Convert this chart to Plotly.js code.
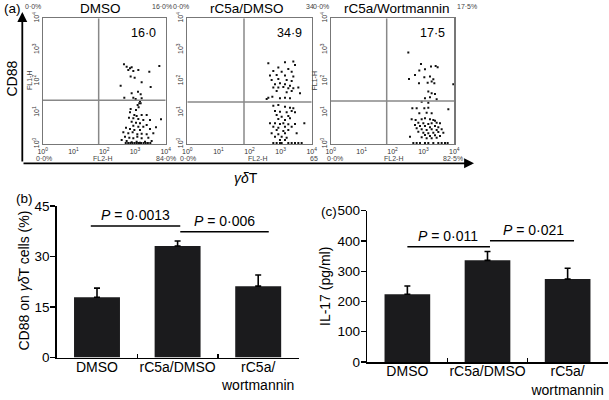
<!DOCTYPE html>
<html>
<head>
<meta charset="utf-8">
<script src="https://cdn.plot.ly/plotly-3.0.1.min.js"></script>
<style>html,body{margin:0;padding:0;background:#fff;}#chart{width:609px;height:400px;}</style>
</head>
<body>
<div id="chart"></div>
<script>
// ---------- Panel (a): flow cytometry dots (log10 decades) ----------
const dmsoX = [2.643,2.730,2.839,2.893,2.947,2.784,3.110,3.467,3.793,2.860,2.990,3.218,2.535,3.511,3.099,2.893,3.186,2.654,2.947,3.023,3.218,
  3.164,3.142,3.088,3.186,3.120,2.860,3.034,2.839,2.980,3.055,3.218,3.381,2.806,2.947,3.110,3.272,3.489,3.847,2.893,3.034,3.164,3.381,2.947,3.110,3.272,2.709,2.839,2.980,3.164,3.489,3.684,2.622,2.784,2.925,3.077,3.218,3.381,3.597,2.676,2.817,2.947,3.077,3.218,3.435,2.568,2.730,2.893,3.055,3.164,3.327,3.543,
  2.700,2.780,2.850,2.920,2.990,3.060,3.130,3.200,3.280,3.350,3.420,3.500];
const dmsoY = [2.537,2.462,2.409,2.441,2.324,2.356,2.356,2.303,2.484,2.144,2.112,1.963,1.857,1.815,1.666,1.613,1.581,1.475,1.475,1.433,1.454,
  1.369,1.295,1.242,1.295,1.167,1.114,1.082,1.008,0.923,0.891,0.923,0.923,0.838,0.817,0.796,0.764,0.764,0.785,0.711,0.679,0.658,0.605,0.583,0.552,0.552,0.520,0.477,0.445,0.445,0.477,0.530,0.371,0.339,0.371,0.307,0.329,0.307,0.339,0.233,0.201,0.180,0.233,0.180,0.201,0.127,0.095,0.053,0.074,0.042,0.074,0.095,
  0.03,0.03,0.03,0.03,0.03,0.03,0.03,0.03,0.03,0.03,0.03,0.03];

const rc5aX = [2.605,3.141,3.409,3.463,2.927,3.248,2.766,3.034,3.356,2.659,2.873,3.141,3.409,2.712,2.927,3.195,3.356,2.820,2.980,3.141,3.302,2.766,2.927,3.088,3.248,3.409,3.570,2.873,3.195,3.356,2.605,2.734,2.980,3.141,3.302,3.624,2.552,
  2.766,2.927,3.141,3.302,3.409,2.820,2.980,3.195,3.356,3.463,2.873,3.034,3.248,2.927,3.141,3.302,2.659,2.820,2.980,3.088,3.248,3.463,3.763,2.766,2.927,3.141,3.356,2.873,3.088,3.248,2.712,2.927,3.141,3.516,2.820,3.034,3.195,2.980,3.141,
  2.766,2.873,2.980,3.034,3.248,3.356,3.463,3.570,3.677];
const rc5aY = [2.569,2.600,2.622,2.516,2.431,2.388,2.324,2.303,2.303,2.176,2.197,2.176,2.144,2.038,2.070,2.038,2.006,1.900,1.932,1.900,1.857,1.794,1.794,1.815,1.772,1.772,1.794,1.687,1.645,1.687,1.475,1.507,1.454,1.475,1.454,1.613,1.433,
  1.220,1.242,1.189,1.157,1.136,1.051,1.029,1.008,1.051,1.008,0.923,0.870,0.891,0.796,0.764,0.817,0.658,0.658,0.636,0.658,0.626,0.636,0.658,0.552,0.520,0.552,0.552,0.445,0.414,0.445,0.339,0.307,0.339,0.339,0.233,0.233,0.201,0.127,0.127,
  0.03,0.03,0.03,0.03,0.03,0.03,0.03,0.03,0.03];

const wortX = [2.512,2.922,3.246,3.397,3.461,2.728,2.868,3.051,2.534,2.857,3.030,3.138,3.213,3.267,3.354,3.321,3.968,3.159,3.267,3.375,3.051,3.213,3.429,2.944,3.159,
  2.642,2.782,3.030,3.159,3.807,2.868,3.105,3.267,2.620,2.749,2.944,3.051,3.213,3.321,3.375,2.836,2.998,3.159,3.267,3.429,3.537,2.728,2.890,3.051,3.213,3.375,3.483,2.782,2.944,3.105,3.267,3.429,3.591,2.836,2.998,3.159,3.321,3.483,3.645,3.051,3.213,3.375,3.537,2.566,2.944,3.105,3.267,3.429,
  2.674,2.782,2.890,3.051,3.159,3.321,3.483,3.591,3.699,3.785];
const wortY = [2.909,2.548,2.463,2.484,2.442,2.197,2.335,2.378,2.070,1.932,2.123,1.953,2.144,1.985,1.932,2.059,1.900,1.667,1.613,1.592,1.454,1.486,1.422,1.348,1.316,
  1.136,1.136,1.136,1.157,1.104,0.977,0.998,0.977,0.785,0.764,0.785,0.817,0.785,0.764,0.743,0.679,0.658,0.637,0.658,0.679,0.658,0.605,0.573,0.573,0.531,0.573,0.531,0.499,0.467,0.446,0.467,0.446,0.467,0.393,0.361,0.340,0.361,0.382,0.361,0.287,0.255,0.276,0.255,0.234,0.212,0.180,0.180,0.202,
  0.03,0.03,0.03,0.03,0.03,0.03,0.03,0.03,0.03,0.03];

const flowTitles = ['DMSO', 'rC5a/DMSO', 'rC5a/Wortmannin'];
const flowPercents = ['16·0', '34·9', '17·5'];
const gateX = [1.82, 1.823, 1.812];
const gateY = [1.39, 1.337, 1.37];
const decadeVals = [0, 1, 2, 3, 4];
const decadeText = ['10<sup>0</sup>', '10<sup>1</sup>', '10<sup>2</sup>', '10<sup>3</sup>', '10<sup>4</sup>'];

// ---------- Panels (b) and (c): bars ----------
const barCats = ['DMSO', 'rC5a/DMSO', 'rC5a/<br>wortmannin'];
const cd88Mean = [17.9, 33.1, 21.2];
const cd88Err = [2.7, 1.5, 3.3];
const il17Mean = [224, 336, 274];
const il17Err = [27, 29, 36];
const cd88Ticks = [0, 15, 30, 45];
const il17Ticks = [0, 100, 200, 300, 400, 500];
const pValuesB = ['<i>P</i> = 0·0013', '<i>P</i> = 0·006'];
const pValuesC = ['<i>P</i> = 0·011', '<i>P</i> = 0·021'];

const FONT = 'Liberation Sans, Arial, Helvetica, sans-serif';
const BAR = '#1b1b1d';

function dots(x, y, xa, ya) {
  return {x: x, y: y, xaxis: xa, yaxis: ya, type: 'scatter', mode: 'markers',
    marker: {color: '#111', size: 2, symbol: 'square'}, hoverinfo: 'skip'};
}
function bars(y, err, xa, ya) {
  return {x: barCats, y: y, xaxis: xa, yaxis: ya, type: 'bar', width: 0.57,
    marker: {color: BAR, line: {width: 0}},
    error_y: {type: 'data', array: err, arrayminus: [0, 0, 0], symmetric: false,
      color: '#000', thickness: 1.6, width: 3}};
}

const data = [
  dots(dmsoX, dmsoY, 'x', 'y'),
  dots(rc5aX, rc5aY, 'x2', 'y2'),
  dots(wortX, wortY, 'x3', 'y3'),
  bars(cd88Mean, cd88Err, 'x4', 'y4'),
  bars(il17Mean, il17Err, 'x5', 'y5')
];

const px = v => v / 609;
const py = v => 1 - v / 400;

function flowX(d0, d1, anchor) {
  return {domain: [d0, d1], anchor: anchor, range: [0, 4], showline: true, mirror: true,
    linecolor: '#777', linewidth: 1.2, showgrid: false, zeroline: false, ticks: '',
    tickvals: decadeVals, ticktext: decadeText, tickfont: {size: 7, color: '#333', family: FONT}};
}
function flowY(anchor) {
  return {domain: [py(144), py(18.3)], anchor: anchor, range: [0, 4], showline: true, mirror: true,
    linecolor: '#777', linewidth: 1.2, showgrid: false, zeroline: false, ticks: '',
    tickvals: decadeVals, ticktext: decadeText, tickangle: -90,
    tickfont: {size: 7, color: '#333', family: FONT}};
}
function catX(d0, d1, anchor) {
  return {domain: [d0, d1], anchor: anchor, type: 'category', range: [-0.5, 2.5],
    showline: true, linecolor: '#000', linewidth: 1.5, showgrid: false, zeroline: false,
    ticks: 'inside', tickson: 'boundaries', ticklen: 4, tickwidth: 1.2, tickcolor: '#000',
    tickangle: 0, automargin: false, ticklabelstandoff: -4,
    tickfont: {size: 14, color: '#000', family: FONT}};
}
function valY(d0, d1, anchor, range, tv) {
  return {domain: [d0, d1], anchor: anchor, range: range, tickvals: tv,
    showline: true, linecolor: '#000', linewidth: 1.5, showgrid: false, zeroline: false,
    ticks: 'outside', ticklen: 5, tickwidth: 1.2, tickcolor: '#000', ticklabelstandoff: -2,
    tickfont: {size: 13.5, color: '#000', family: FONT}};
}

const shapes = [];
const ann = [];
function A(o) { return Object.assign({xanchor: 'center', yanchor: 'middle', showarrow: false}, o); }

const flowAxes = [['x', 'y'], ['x2', 'y2'], ['x3', 'y3']];
flowAxes.forEach(([xa, ya], i) => {
  shapes.push({type: 'line', xref: xa, yref: ya, x0: gateX[i], x1: gateX[i], y0: 0, y1: 4,
    line: {color: '#888', width: 1.5}});
  shapes.push({type: 'line', xref: xa, yref: ya, x0: 0, x1: 4, y0: gateY[i], y1: gateY[i],
    line: {color: '#888', width: 1.5}});
  ann.push(A({xref: xa + ' domain', yref: ya + ' domain', x: 0.82, y: 0.885, text: flowPercents[i],
    font: {size: 12.5, color: '#000', family: FONT}}));
});

// panel titles
const titleX = [100, 246.7, 397];
flowTitles.forEach((t, i) => ann.push(A({xref: 'paper', yref: 'paper', x: px(titleX[i]), y: py(8.5),
  text: t, font: {size: 13.5, color: '#000', family: FONT}})));

// small gray quadrant labels
const smallLabels = [
  ['0·0%', 33, 7], ['16·0%', 162, 7], ['0·0%', 181, 7], ['34', 310, 7], ['0·0%', 321, 7], ['17·5%', 467, 7],
  ['0·0%', 44, 158], ['FL2-H', 103, 158], ['84·0%', 166, 158],
  ['0·0%', 187.5, 158], ['FL2-H', 257, 158], ['65', 314, 158],
  ['0·0%', 334.5, 158], ['FL2-H', 393, 158], ['82·5%', 453, 158]
];
smallLabels.forEach(([t, x, y]) => ann.push(A({xref: 'paper', yref: 'paper', x: px(x), y: py(y), text: t,
  font: {size: 7, color: '#444', family: FONT}})));
[[29, 81], [313.5, 81]].forEach(([x, y]) => ann.push(A({xref: 'paper', yref: 'paper', x: px(x), y: py(y),
  text: 'FL1-H', textangle: -90, font: {size: 7, color: '#444', family: FONT}})));

// big axis arrows
ann.push({xref: 'paper', yref: 'paper', x: px(22.3), y: py(12), ax: 0, ay: 151, text: '',
  showarrow: true, arrowhead: 2, arrowsize: 1.1, arrowwidth: 1.8, arrowcolor: '#000'});
ann.push({xref: 'paper', yref: 'paper', x: px(474), y: py(163.3), ax: -452, ay: 0, text: '',
  showarrow: true, arrowhead: 2, arrowsize: 1.1, arrowwidth: 1.8, arrowcolor: '#000'});
ann.push(A({xref: 'paper', yref: 'paper', x: px(11.5), y: py(79), text: 'CD88', textangle: -90,
  font: {size: 14, color: '#000', family: FONT}}));
ann.push(A({xref: 'paper', yref: 'paper', x: px(246), y: py(178), text: '<i>γδ</i>T',
  font: {size: 14, color: '#000', family: FONT}}));
ann.push(A({xref: 'paper', yref: 'paper', x: px(12), y: py(8), text: '(a)',
  font: {size: 13.5, color: '#000', family: FONT}}));

// bar panel labels and titles
ann.push(A({xref: 'paper', yref: 'paper', x: px(24), y: py(198), text: '(b)',
  font: {size: 13.5, color: '#000', family: FONT}}));
ann.push(A({xref: 'paper', yref: 'paper', x: px(329), y: py(211.7), text: '(c)',
  font: {size: 13.5, color: '#000', family: FONT}}));
ann.push(A({xref: 'paper', yref: 'paper', x: px(23.5), y: py(281), text: 'CD88 on <i>γδ</i>T cells (%)',
  textangle: -90, font: {size: 14, color: '#000', family: FONT}}));
ann.push(A({xref: 'paper', yref: 'paper', x: px(325), y: py(287), text: 'IL-17 (pg/ml)',
  textangle: -90, font: {size: 14, color: '#000', family: FONT}}));

// significance brackets
const brB = [[-0.077, 1.033, 39.06], [1.033, 2.131, 37.36]];
const txB = [[0.473, 42.2], [1.583, 40.5]];
brB.forEach(([a, b, y]) => shapes.push({type: 'line', xref: 'x4', yref: 'y4', x0: a, x1: b, y0: y, y1: y,
  line: {color: '#000', width: 1.5}}));
txB.forEach(([x, y], i) => ann.push(A({xref: 'x4', yref: 'y4', x: x, y: y, text: pValuesB[i],
  font: {size: 14, color: '#000', family: FONT}})));
const brC = [[0.0, 1.031, 381], [1.031, 2.08, 401]];
const txC = [[0.511, 415], [1.572, 437]];
brC.forEach(([a, b, y]) => shapes.push({type: 'line', xref: 'x5', yref: 'y5', x0: a, x1: b, y0: y, y1: y,
  line: {color: '#000', width: 1.5}}));
txC.forEach(([x, y], i) => ann.push(A({xref: 'x5', yref: 'y5', x: x, y: y, text: pValuesC[i],
  font: {size: 14, color: '#000', family: FONT}})));

const layout = {
  width: 609, height: 400, margin: {l: 0, r: 0, t: 0, b: 0},
  paper_bgcolor: '#fff', plot_bgcolor: 'rgba(0,0,0,0)', showlegend: false,
  font: {family: FONT, color: '#000'},
  xaxis: flowX(px(42.7), px(165.7), 'y'),
  yaxis: flowY('x'),
  xaxis2: flowX(px(187.3), px(311.7), 'y2'),
  yaxis2: flowY('x2'),
  xaxis3: flowX(px(330.7), px(454.3), 'y3'),
  yaxis3: flowY('x3'),
  xaxis4: catX(px(56.7), px(298.5), 'y4'),
  yaxis4: valY(py(357.5), py(206), 'x4', [0, 45], cd88Ticks),
  xaxis5: catX(px(367.3), px(607.7), 'y5'),
  yaxis5: valY(py(362), py(210.7), 'x5', [0, 500], il17Ticks),
  shapes: shapes,
  annotations: ann
};

Plotly.newPlot('chart', data, layout, {staticPlot: true, displayModeBar: false});
</script>
</body>
</html>
